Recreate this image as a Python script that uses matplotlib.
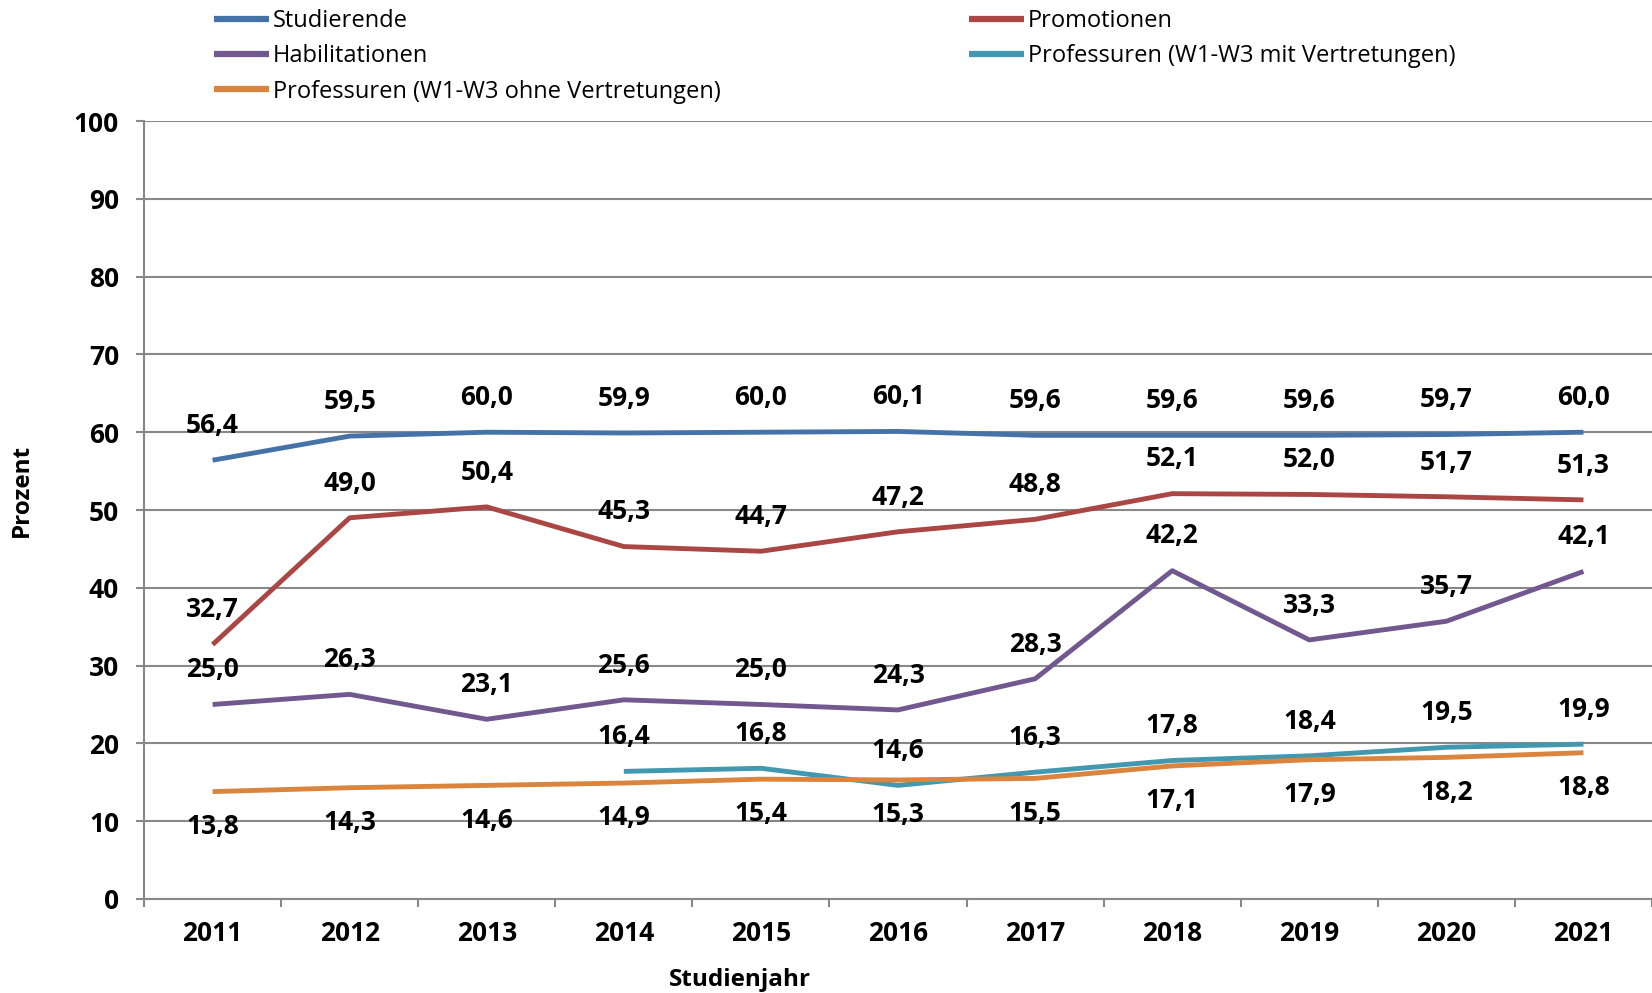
import numpy as np
from matplotlib import pyplot as plt

plt.rcParams['font.family'] = ['Open Sans', 'DejaVu Sans']

years = ['2011', '2012', '2013', '2014', '2015', '2016', '2017', '2018', '2019', '2020', '2021']
studierende = [56.4, 59.5, 60.0, 59.9, 60.0, 60.1, 59.6, 59.6, 59.6, 59.7, 60.0]
promotionen = [32.7, 49.0, 50.4, 45.3, 44.7, 47.2, 48.8, 52.1, 52.0, 51.7, 51.3]
habilitationen = [25.0, 26.3, 23.1, 25.6, 25.0, 24.3, 28.3, 42.2, 33.3, 35.7, 42.1]
prof_mit = [np.nan, np.nan, np.nan, 16.4, 16.8, 14.6, 16.3, 17.8, 18.4, 19.5, 19.9]
prof_ohne = [13.8, 14.3, 14.6, 14.9, 15.4, 15.3, 15.5, 17.1, 17.9, 18.2, 18.8]

# name, values, colour, label above (+1) or below (-1)
series = [
    ('Studierende', studierende, '#4572A7', 1),
    ('Promotionen', promotionen, '#AA4643', 1),
    ('Habilitationen', habilitationen, '#71588F', 1),
    ('Professuren (W1-W3 mit Vertretungen)', prof_mit, '#4198AF', 1),
    ('Professuren (W1-W3 ohne Vertretungen)', prof_ohne, '#DB843D', -1),
]

fig = plt.figure(figsize=(16.52, 9.93), dpi=100)
ax = fig.add_axes([0.0872, 0.0947, 0.9128, 0.7834])

x = np.arange(len(years))
handles = {}
for name, vals, col, side in series:
    ln, = ax.plot(x, vals, color=col, lw=3.5, solid_capstyle='butt', zorder=3)
    handles[name] = ln
    for xi, v in zip(x, vals):
        if np.isnan(v):
            continue
        ax.annotate(f'{v:.1f}'.replace('.', ','), (xi, v), xytext=(0, 25 * side),
                    textcoords='offset points', ha='center', va='center',
                    fontsize=19, fontweight='bold', color='black', zorder=4)

ax.set_xlim(-0.5, len(years) - 0.5)
ax.set_ylim(0, 100)
ax.set_yticks(np.arange(0, 101, 10))
ax.set_xticks(np.arange(-0.5, len(years), 1))
ax.set_xticklabels([])
ax.set_xticks(x, minor=True)
ax.set_xticklabels(years, minor=True)
ax.tick_params(axis='x', which='minor', length=0, pad=15, labelsize=19)
ax.tick_params(axis='x', which='major', length=6, width=1.5, color='#888888')
ax.tick_params(axis='y', length=6, width=1.5, color='#888888', pad=12, labelsize=19)
for lab in ax.get_xticklabels(minor=True) + ax.get_yticklabels():
    lab.set_fontweight('bold')

ax.grid(axis='y', color='#888888', lw=1.5, zorder=1)
for s in ['top', 'right']:
    ax.spines[s].set_visible(False)
ax.spines['left'].set_color('#888888')
ax.spines['left'].set_linewidth(1.5)
ax.spines['bottom'].set_color('#888888')
ax.spines['bottom'].set_linewidth(1.5)

ax.set_ylabel('Prozent', fontsize=17.5, fontweight='bold')
ax.yaxis.set_label_coords(-0.073, 0.525)
fig.text(0.448, 0.013, 'Studienjahr', ha='center', va='center', fontsize=17.5, fontweight='bold')

col1 = ['Studierende', 'Habilitationen', 'Professuren (W1-W3 ohne Vertretungen)']
col2 = ['Promotionen', 'Professuren (W1-W3 mit Vertretungen)']
lkw = dict(frameon=False, fontsize=17, handlelength=2.35, handletextpad=0.15,
           labelspacing=0.48, borderaxespad=0, borderpad=0, loc='upper left')
leg1 = fig.legend([handles[n] for n in col1], col1, bbox_to_anchor=(0.1295, 0.991), **lkw)
leg2 = fig.legend([handles[n] for n in col2], col2, bbox_to_anchor=(0.5865, 0.991), **lkw)
for leg in (leg1, leg2):
    for h in leg.legend_handles:
        h.set_linewidth(4.5)

fig.savefig('out.png', dpi=100)
